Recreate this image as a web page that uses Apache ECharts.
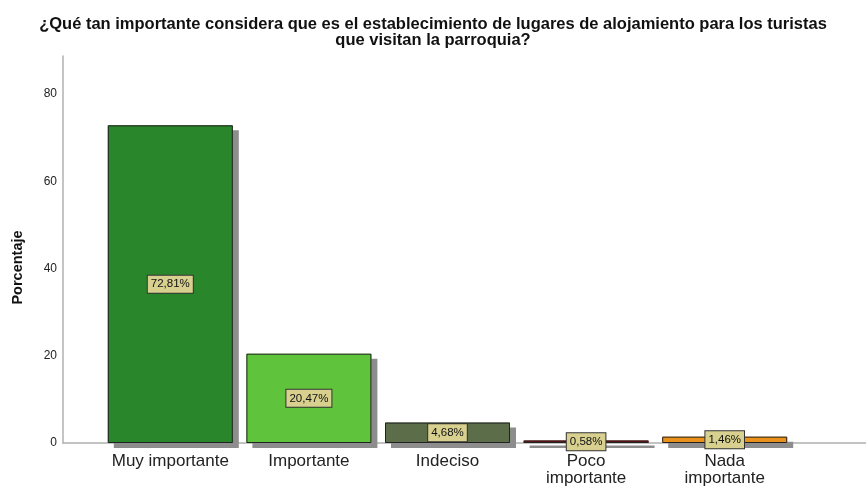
<!DOCTYPE html>
<html>
<head>
<meta charset="utf-8">
<script src="https://cdn.jsdelivr.net/npm/echarts@6/dist/echarts.min.js"></script>
<style>
  html, body { margin: 0; padding: 0; background: #fff; }
  #chart { width: 866px; height: 487px; }
</style>
</head>
<body>
<div id="chart"></div>
<script>
const categories = ['Muy importante', 'Importante', 'Indeciso', 'Poco\nimportante', 'Nada\nimportante'];
const percentages = [72.81, 20.47, 4.68, 0.58, 1.46];
const barColors = ['#2a862b', '#5fc43b', '#5b6e49', '#8a0c0c', '#ea911c'];
const yTicks = [0, 20, 40, 60, 80];

const yMax = 88.7;
const chart = echarts.init(document.getElementById('chart'));

const pctLabel = function (p) { return p.value.toFixed(2).replace('.', ',') + '%'; };

const option = {
  animation: false,
  title: {
    text: '¿Qué tan importante considera que es el establecimiento de lugares de alojamiento para los turistas\nque visitan la parroquia?',
    left: 'center',
    top: 11,
    textStyle: {
      fontFamily: 'Liberation Sans',
      fontSize: 16.5,
      fontWeight: 'bold',
      color: '#111',
      lineHeight: 16
    }
  },
  grid: [
    // axis frame
    { left: 63, right: 0, top: 56, bottom: 44 },
    // bars
    { left: 101, width: 693, top: 56, bottom: 44 }
  ],
  xAxis: [
    {
      gridIndex: 0,
      type: 'category',
      data: [''],
      axisLine: { show: true, lineStyle: { color: '#b0b0b0', width: 1.5 } },
      axisTick: { show: false },
      axisLabel: { show: false }
    },
    {
      gridIndex: 1,
      type: 'category',
      data: categories,
      axisLine: { show: false },
      axisTick: { show: false },
      axisLabel: {
        color: '#222',
        fontFamily: 'Liberation Sans',
        fontSize: 17,
        lineHeight: 17,
        margin: 10,
        interval: 0
      }
    }
  ],
  yAxis: [
    {
      gridIndex: 0,
      type: 'value',
      min: 0,
      max: yMax,
      interval: 20,
      name: 'Porcentaje',
      nameLocation: 'middle',
      nameGap: 38,
      nameTextStyle: {
        fontFamily: 'Liberation Sans',
        fontSize: 14.5,
        fontWeight: 'bold',
        color: '#111',
        padding: [0, 36, 0, 0]
      },
      axisLine: { show: true, lineStyle: { color: '#b0b0b0', width: 1.5 } },
      axisTick: { show: false },
      splitLine: { show: false },
      axisLabel: {
        color: '#222',
        fontFamily: 'Liberation Sans',
        fontSize: 12,
        margin: 6,
        showMaxLabel: false,
        formatter: function (v) { return yTicks.indexOf(v) >= 0 ? String(v) : ''; }
      }
    },
    {
      gridIndex: 1,
      type: 'value',
      min: 0,
      max: yMax,
      show: false,
      splitLine: { show: false }
    }
  ],
  series: [
    {
      // filled bars with drop shadow
      type: 'bar',
      xAxisIndex: 1,
      yAxisIndex: 1,
      barWidth: 125,
      data: percentages.map(function (v, i) {
        return { value: v, itemStyle: { color: barColors[i] } };
      }),
      itemStyle: {
        borderWidth: 0,
        shadowColor: '#8d8d8d',
        shadowOffsetX: 6,
        shadowOffsetY: 5,
        shadowBlur: 0
      },
      z: 2
    },
    {
      // outlines and value labels on top
      type: 'bar',
      xAxisIndex: 1,
      yAxisIndex: 1,
      barWidth: 125,
      barGap: '-100%',
      data: percentages,
      itemStyle: {
        color: 'rgba(0,0,0,0)',
        borderColor: '#222',
        borderWidth: 1
      },
      label: {
        show: true,
        position: 'inside',
        formatter: pctLabel,
        fontFamily: 'Liberation Sans',
        fontSize: 11.5,
        color: '#111',
        backgroundColor: '#d8d08f',
        borderColor: '#333',
        borderWidth: 1,
        padding: [3, 3, 2, 3]
      },
      z: 3
    }
  ]
};

chart.setOption(option);
</script>
</body>
</html>
